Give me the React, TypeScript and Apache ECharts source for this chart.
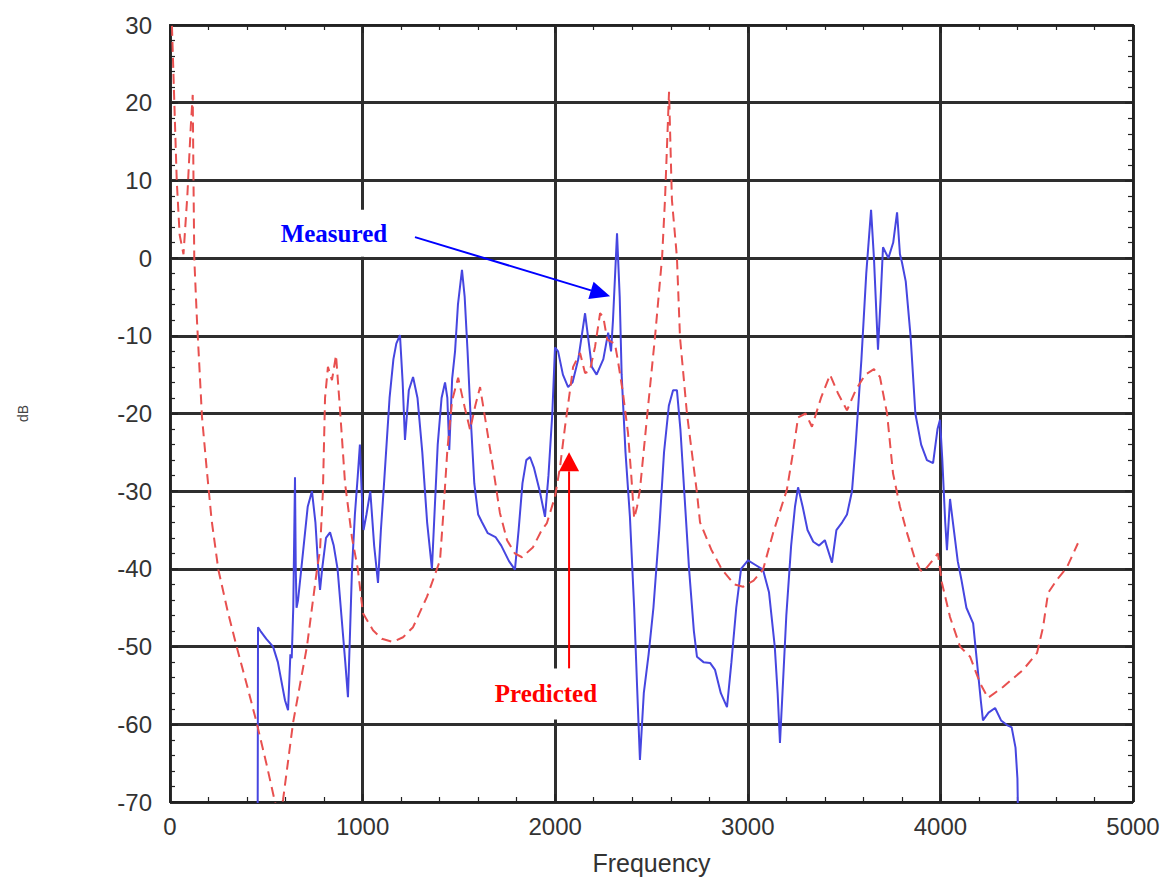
import React, { useEffect, useRef } from "react";
import * as echarts from "echarts";

// Frequency axis (Hz) and dB axis ticks
const xTickValues = [0, 1000, 2000, 3000, 4000, 5000];
const yTickValues = [-70, -60, -50, -40, -30, -20, -10, 0, 10, 20, 30];

// Measured response: [frequency Hz, dB]
const measured: [number, number][] = [
  [455, -75], [457, -47.5], [470, -48], [500, -49], [535, -50], [560, -52], [597, -56.9], [613, -58.2],
  [620, -54], [625, -51], [632, -51.5], [640, -45], [649, -28.2], [653, -40], [657, -45], [665, -44],
  [690, -38], [715, -32], [737, -30], [755, -34], [770, -40], [779, -42.7], [790, -40], [810, -36],
  [831, -35.3], [850, -37], [870, -40], [890, -46], [910, -52], [924, -56.5], [935, -48], [945, -40],
  [960, -33], [975, -28], [986, -24], [995, -30], [1005, -35], [1020, -33], [1040, -30], [1060, -37],
  [1080, -41.8], [1095, -35], [1110, -29.5], [1140, -18], [1160, -13], [1175, -11], [1194, -9.9],
  [1208, -16], [1220, -23.4], [1240, -17], [1262, -15.3], [1285, -18], [1310, -25], [1335, -34],
  [1360, -40], [1375, -32], [1390, -24], [1410, -18], [1428, -16], [1440, -18], [1450, -24.7],
  [1465, -15.5], [1480, -12], [1495, -6], [1516, -1.5], [1530, -5], [1545, -12], [1560, -20],
  [1580, -29], [1600, -33], [1620, -34], [1650, -35.4], [1690, -35.9], [1720, -37], [1760, -39],
  [1791, -40.1], [1810, -35], [1830, -29], [1850, -26], [1869, -25.6], [1890, -27], [1920, -30],
  [1947, -33.3], [1965, -28], [1985, -20], [1999, -11.5], [2015, -12], [2040, -15], [2067, -16.6],
  [2090, -16], [2120, -13], [2155, -7.1], [2175, -11], [2190, -14], [2215, -15], [2250, -13],
  [2275, -9.6], [2290, -12], [2300, -8], [2321, 3.2], [2335, -5], [2345, -15], [2365, -25],
  [2388, -33.3], [2410, -45], [2425, -55], [2440, -64.6], [2460, -56], [2485, -51], [2510, -45],
  [2540, -35], [2565, -25], [2590, -19], [2612, -17], [2632, -17], [2650, -22], [2670, -30],
  [2695, -40], [2720, -48], [2736, -51.3], [2770, -52], [2804, -52.1], [2830, -53], [2860, -56],
  [2892, -57.8], [2915, -52], [2940, -45], [2965, -40], [3001, -38.9], [3040, -39.5], [3079, -40.1],
  [3110, -43], [3140, -50], [3155, -56], [3167, -62.4], [3180, -56], [3200, -46], [3225, -37],
  [3245, -32], [3261, -29.5], [3285, -32], [3310, -35], [3340, -36.5], [3370, -37], [3400, -36.3],
  [3437, -39.2], [3460, -35], [3490, -34], [3515, -33], [3541, -30], [3560, -24], [3590, -13],
  [3615, -2], [3640, 6.2], [3655, 0], [3676, -11.8], [3690, -5], [3702, 1.4], [3730, 0], [3755, 2],
  [3775, 5.9], [3790, 0.5], [3800, -0.5], [3820, -3], [3845, -10], [3870, -20], [3900, -24],
  [3930, -26], [3962, -26.4], [3985, -22], [3998, -20.8], [4010, -26], [4025, -34], [4034, -37.6],
  [4050, -31], [4065, -34], [4090, -39], [4110, -41.5], [4135, -45], [4170, -47], [4190, -52],
  [4210, -57], [4221, -59.5], [4250, -58.5], [4284, -57.9], [4315, -59.5], [4346, -60.1],
  [4370, -60.4], [4390, -63], [4400, -67], [4405, -75],
];

// Predicted response: [frequency Hz, dB]
const predicted: [number, number][] = [
  [5, 34], [20, 22], [35, 10], [50, 3], [70, 0.5], [90, 8], [108, 17], [118, 21], [122, 10], [126, 0],
  [140, -8], [166, -20.4], [190, -27], [216, -33.7], [251, -40.1], [300, -45.5], [346, -50], [400, -55],
  [450, -59.8], [500, -65], [545, -70], [565, -72], [587, -69.7], [639, -59.8], [711, -50], [763, -40.1],
  [779, -37.6], [794, -30], [805, -18], [820, -14], [841, -15.7], [862, -12.5], [883, -19.6], [909, -29],
  [945, -36], [975, -40], [1002, -45.7], [1054, -47.9], [1100, -49], [1158, -49.4], [1210, -48.8],
  [1262, -47.5], [1334, -43.6], [1402, -38.9], [1418, -33.3], [1440, -24.7], [1465, -18.3], [1496, -15.4],
  [1530, -19.2], [1558, -22.1], [1585, -19], [1610, -16.6], [1640, -21.2], [1677, -26.9], [1713, -32.8],
  [1750, -36.3], [1790, -38], [1828, -38.5], [1885, -37.2], [1930, -35], [1957, -34.1], [1999, -30.7],
  [2025, -26.9], [2051, -21.7], [2077, -17], [2093, -14], [2129, -12.2], [2155, -14.8], [2180, -14.5],
  [2207, -11.4], [2233, -7.1], [2250, -7.6], [2270, -10.5], [2310, -11], [2325, -13.1], [2352, -17.4],
  [2378, -22.5], [2395, -28], [2410, -33.5], [2425, -32], [2440, -29.8], [2477, -20.4], [2518, -10.2],
  [2555, 0.1], [2570, 7.5], [2591, 21.4], [2606, 7.5], [2632, 0.1], [2648, -10.2], [2684, -20],
  [2736, -30.2], [2752, -34], [2810, -37.5], [2866, -40.1], [2930, -42], [2975, -42.3], [3030, -41.5],
  [3079, -40.1], [3131, -35.4], [3203, -29.8], [3235, -25], [3261, -20.5], [3300, -20], [3333, -21.7],
  [3380, -18], [3427, -15], [3470, -17.5], [3515, -19.6], [3560, -17], [3610, -15], [3655, -14.3],
  [3686, -15.3], [3723, -20], [3754, -27.7], [3790, -32], [3827, -35.4], [3865, -38.5], [3894, -40.1],
  [3910, -40.4], [3950, -39.2], [3987, -38], [4008, -41.8], [4050, -46.2], [4102, -50], [4154, -51.3],
  [4206, -54.7], [4247, -56.6], [4325, -55.2], [4429, -53], [4502, -50.8], [4533, -47.5], [4559, -43.1],
  [4605, -41.4], [4657, -39.8], [4714, -36.7],
];

// Annotations (data coordinates)
const measuredLabel = { text: "Measured", at: [851, 3.2] as [number, number] };
const measuredArrow = { from: [1272, 2.7] as [number, number], to: [2285, -4.9] as [number, number] };
const predictedLabel = { text: "Predicted", at: [1952, -56.1] as [number, number] };
const predictedArrow = { from: [2072, -52.8] as [number, number], to: [2072, -25] as [number, number] };

const AXIS_COLOR = "#222";
const GRID_COLOR = "#2e2e2e";
const LABEL_FONT = "'Liberation Sans', Arial, sans-serif";

export default function App() {
  const ref = useRef<HTMLDivElement>(null);

  useEffect(() => {
    const chart = echarts.init(ref.current!, null, { renderer: "svg" });
    const xMin = xTickValues[0];
    const xMax = xTickValues[xTickValues.length - 1];
    const yMin = yTickValues[0];
    const yMax = yTickValues[yTickValues.length - 1];

    const tickCommon = {
      axisLine: { show: true, onZero: false, lineStyle: { color: AXIS_COLOR, width: 2 } },
      axisTick: { show: true, inside: true, length: 8, lineStyle: { color: AXIS_COLOR, width: 1.5 } },
      minorTick: { show: true, splitNumber: 5, length: 5, lineStyle: { color: AXIS_COLOR, width: 1.2 } },
    };

    chart.setOption({
      animation: false,
      backgroundColor: "#fff",
      grid: { left: 170, top: 25, width: 963, height: 777, containLabel: false },
      xAxis: [
        {
          type: "value",
          min: xMin,
          max: xMax,
          interval: 1000,
          position: "bottom",
          ...tickCommon,
          splitLine: { show: true, lineStyle: { color: GRID_COLOR, width: 3 } },
          axisLabel: {
            fontSize: 24,
            color: "#333",
            margin: 12,
            fontFamily: LABEL_FONT,
            formatter: (v: number) => String(v),
          },
          name: "Frequency",
          nameLocation: "middle",
          nameGap: 48,
          nameTextStyle: { fontSize: 25, color: "#333", fontFamily: LABEL_FONT },
        },
        {
          type: "value",
          min: xMin,
          max: xMax,
          interval: 1000,
          position: "top",
          ...tickCommon,
          splitLine: { show: false },
          axisLabel: { show: false },
        },
      ],
      yAxis: [
        {
          type: "value",
          min: yMin,
          max: yMax,
          interval: 10,
          position: "left",
          ...tickCommon,
          splitLine: { show: true, lineStyle: { color: GRID_COLOR, width: 3 } },
          axisLabel: {
            fontSize: 24,
            color: "#333",
            margin: 18,
            fontFamily: LABEL_FONT,
            formatter: (v: number) => String(v),
          },
          name: "dB",
          nameLocation: "middle",
          nameGap: 140,
          nameRotate: 90,
          nameTextStyle: { fontSize: 14, color: "#444", fontFamily: LABEL_FONT },
        },
        {
          type: "value",
          min: yMin,
          max: yMax,
          interval: 10,
          position: "right",
          ...tickCommon,
          splitLine: { show: false },
          axisLabel: { show: false },
        },
      ],
      series: [
        {
          name: "Measured",
          type: "line",
          data: measured,
          showSymbol: false,
          clip: true,
          lineStyle: { color: "#4646e0", width: 2 },
          z: 3,
        },
        {
          name: "Predicted",
          type: "line",
          data: predicted,
          showSymbol: false,
          clip: true,
          lineStyle: { color: "#e8504f", width: 2, type: [10, 6] },
          z: 4,
        },
      ],
    });

    const px = (p: [number, number]) => chart.convertToPixel({ gridIndex: 0 }, p) as number[];

    const arrow = (from: [number, number], to: [number, number], color: string, headLen: number, headHalf: number) => {
      const a = px(from);
      const b = px(to);
      const dx = b[0] - a[0];
      const dy = b[1] - a[1];
      const len = Math.hypot(dx, dy);
      const ux = dx / len;
      const uy = dy / len;
      const nx = -uy;
      const ny = ux;
      const bx = b[0] - ux * headLen;
      const by = b[1] - uy * headLen;
      return [
        {
          type: "line",
          shape: { x1: a[0], y1: a[1], x2: bx, y2: by },
          style: { stroke: color, lineWidth: 2 },
          z: 100,
        },
        {
          type: "polygon",
          shape: {
            points: [
              [b[0], b[1]],
              [bx + nx * headHalf, by + ny * headHalf],
              [bx - nx * headHalf, by - ny * headHalf],
            ],
          },
          style: { fill: color },
          z: 100,
        },
      ];
    };

    const mPos = px(measuredLabel.at);
    const pPos = px(predictedLabel.at);

    chart.setOption({
      graphic: [
        {
          type: "text",
          x: mPos[0],
          y: mPos[1],
          z: 100,
          style: {
            text: measuredLabel.text,
            fill: "#0000ff",
            font: "bold 25px 'Liberation Serif', 'Times New Roman', serif",
            align: "center",
            verticalAlign: "middle",
            backgroundColor: "#fff",
            padding: [11, 10],
          },
        },
        {
          type: "text",
          x: pPos[0],
          y: pPos[1],
          z: 100,
          style: {
            text: predictedLabel.text,
            fill: "#ff0000",
            font: "bold 25px 'Liberation Serif', 'Times New Roman', serif",
            align: "center",
            verticalAlign: "middle",
            backgroundColor: "#fff",
            padding: [13, 6],
          },
        },
        ...arrow(measuredArrow.from, measuredArrow.to, "#0000ff", 20, 9),
        ...arrow(predictedArrow.from, predictedArrow.to, "#ff0000", 19, 10),
      ],
    });

    return () => chart.dispose();
  }, []);

  return (
    <div
      ref={ref}
      style={{ position: "absolute", left: 0, top: 0, width: 1167, height: 888, background: "#fff" }}
    />
  );
}
